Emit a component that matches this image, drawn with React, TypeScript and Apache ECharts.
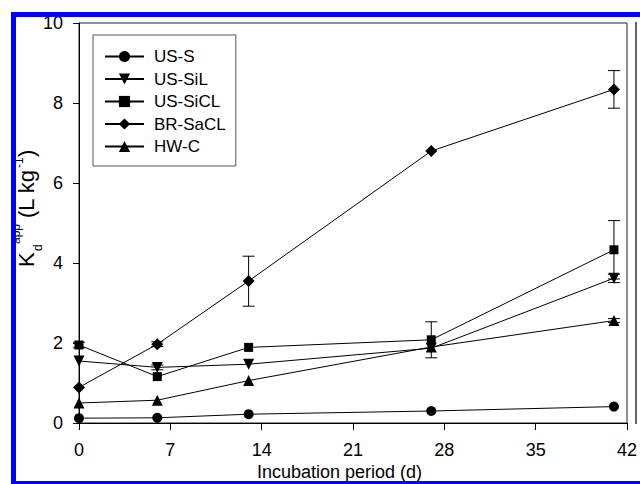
import React, { useEffect, useRef } from "react";
import * as echarts from "echarts";

const days = [0, 6, 13, 27, 41];
const seriesNames = ["US-S", "US-SiL", "US-SiCL", "BR-SaCL", "HW-C"];
const usS = [0.12, 0.13, 0.22, 0.3, 0.41];
const usSiL = [1.55, 1.39, 1.47, 1.87, 3.62];
const usSiCL = [1.95, 1.16, 1.89, 2.08, 4.33];
const brSaCL = [0.89, 1.97, 3.55, 6.8, 8.34];
const hwC = [0.5, 0.57, 1.06, 1.9, 2.56];

// error bars: x, low, high
const errX = [13, 41, 41, 27, 0, 41, 6, 41, 6];
const errLow = [2.92, 7.87, 3.6, 1.63, 1.88, 3.51, 1.33, 2.51, 1.91];
const errHigh = [4.17, 8.81, 5.06, 2.53, 2.02, 3.72, 1.45, 2.61, 2.03];

const xTicks = { min: 0, max: 42, interval: 7 };
const yTicks = { min: 0, max: 10, interval: 2 };

const FONT = "'Liberation Sans', Arial, sans-serif";

export default function App() {
  const ref = useRef<HTMLDivElement>(null);
  useEffect(() => {
    if (!ref.current) return;
    const chart = echarts.init(ref.current, null, { renderer: "svg" });
    const values = [usS, usSiL, usSiCL, brSaCL, hwC];
    const symbols = ["circle", "triangle", "rect", "diamond", "triangle"];
    const sizes = [10, 11, 9, 12, 11];
    const rotates = [0, 180, 0, 0, 0];
    const lineSeries = seriesNames.map((name, k) => ({
      name,
      type: "line",
      data: days.map((d, i) => [d, values[k][i]]),
      symbol: symbols[k],
      symbolSize: sizes[k],
      symbolRotate: rotates[k],
      lineStyle: { color: "#000", width: 1 },
      itemStyle: { color: "#000" },
      z: 3,
    }));
    const errSeries = {
      type: "custom",
      z: 2,
      data: errX.map((x, i) => [x, errLow[i], errHigh[i]]),
      encode: { x: 0, y: [1, 2] },
      renderItem: (params: any, api: any) => {
        const x = api.value(0);
        const lo = api.coord([x, api.value(1)]);
        const hi = api.coord([x, api.value(2)]);
        const w = 6;
        const st = { stroke: "#000", lineWidth: 1 };
        return {
          type: "group",
          children: [
            { type: "line", shape: { x1: lo[0], y1: lo[1], x2: hi[0], y2: hi[1] }, style: st },
            { type: "line", shape: { x1: lo[0] - w, y1: lo[1], x2: lo[0] + w, y2: lo[1] }, style: st },
            { type: "line", shape: { x1: hi[0] - w, y1: hi[1], x2: hi[0] + w, y2: hi[1] }, style: st },
          ],
        };
      },
    };
    const txt = (text: string, x: number, y: number, size: number) => ({
      type: "text",
      x,
      y,
      style: {
        text,
        fontSize: size,
        fontFamily: FONT,
        fill: "#000",
        align: "left",
        verticalAlign: "middle",
      },
    });
    chart.setOption({
      animation: false,
      backgroundColor: "#fff",
      grid: {
        left: 79,
        right: 3,
        top: 23,
        bottom: 61,
        show: true,
        borderColor: "#222",
        borderWidth: 1,
      },
      legend: {
        data: seriesNames,
        orient: "vertical",
        left: 93,
        top: 35,
        padding: [13, 10, 11, 11],
        itemWidth: 39,
        itemHeight: 14,
        itemGap: 5.5,
        borderColor: "#555",
        borderWidth: 1,
        backgroundColor: "#fff",
        textStyle: { fontSize: 17, color: "#000", fontFamily: FONT, padding: [0, 0, 0, 5] },
      },
      xAxis: {
        type: "value",
        ...xTicks,
        axisLine: { lineStyle: { color: "#000", width: 1 } },
        axisTick: { show: true, length: 7, lineStyle: { color: "#000" } },
        axisLabel: { fontSize: 18, color: "#000", fontFamily: FONT, margin: 18, showMinLabel: true, showMaxLabel: true },
        splitLine: { show: false },
      },
      yAxis: {
        type: "value",
        ...yTicks,
        axisLine: { show: true, lineStyle: { color: "#000", width: 1 } },
        axisTick: { show: true, length: 6, lineStyle: { color: "#000" } },
        axisLabel: { fontSize: 18, color: "#000", fontFamily: FONT, margin: 16, showMinLabel: true, showMaxLabel: true },
        splitLine: { show: false },
      },
      series: [...lineSeries, errSeries],
      graphic: [
        {
          type: "text",
          x: 339.5,
          y: 463,
          style: {
            text: "Incubation period (d)",
            fontSize: 18,
            fontFamily: FONT,
            fill: "#000",
            align: "center",
            verticalAlign: "top",
          },
          z: 10,
        },
        {
          type: "group",
          x: 26.5,
          y: 267,
          rotation: Math.PI / 2,
          z: 10,
          children: [
            txt("K", 0, 0, 22),
            txt("d", 16, 11, 12),
            txt("app", 23, -11, 12),
            txt("(L kg", 49, 0, 22),
            txt("-1", 99, -8, 12),
            txt(")", 110, 0, 22),
          ],
        },
        {
          type: "rect",
          shape: { x: 635, y: 22, width: 2, height: 402 },
          style: { fill: "#666" },
          z: 50,
        },
        { type: "rect", shape: { x: 0, y: 0, width: 640, height: 12 }, style: { fill: "#fff" }, z: 100 },
        { type: "rect", shape: { x: 11, y: 12, width: 629, height: 5 }, style: { fill: "#0000ff" }, z: 101 },
        { type: "rect", shape: { x: 11, y: 12, width: 5, height: 472 }, style: { fill: "#0000ff" }, z: 101 },
        { type: "rect", shape: { x: 11, y: 481, width: 629, height: 3 }, style: { fill: "#0000ff" }, z: 101 },
      ],
    });
    return () => chart.dispose();
  }, []);
  return (
    <div
      ref={ref}
      style={{ position: "absolute", left: 0, top: 0, width: 640, height: 484 }}
    />
  );
}
